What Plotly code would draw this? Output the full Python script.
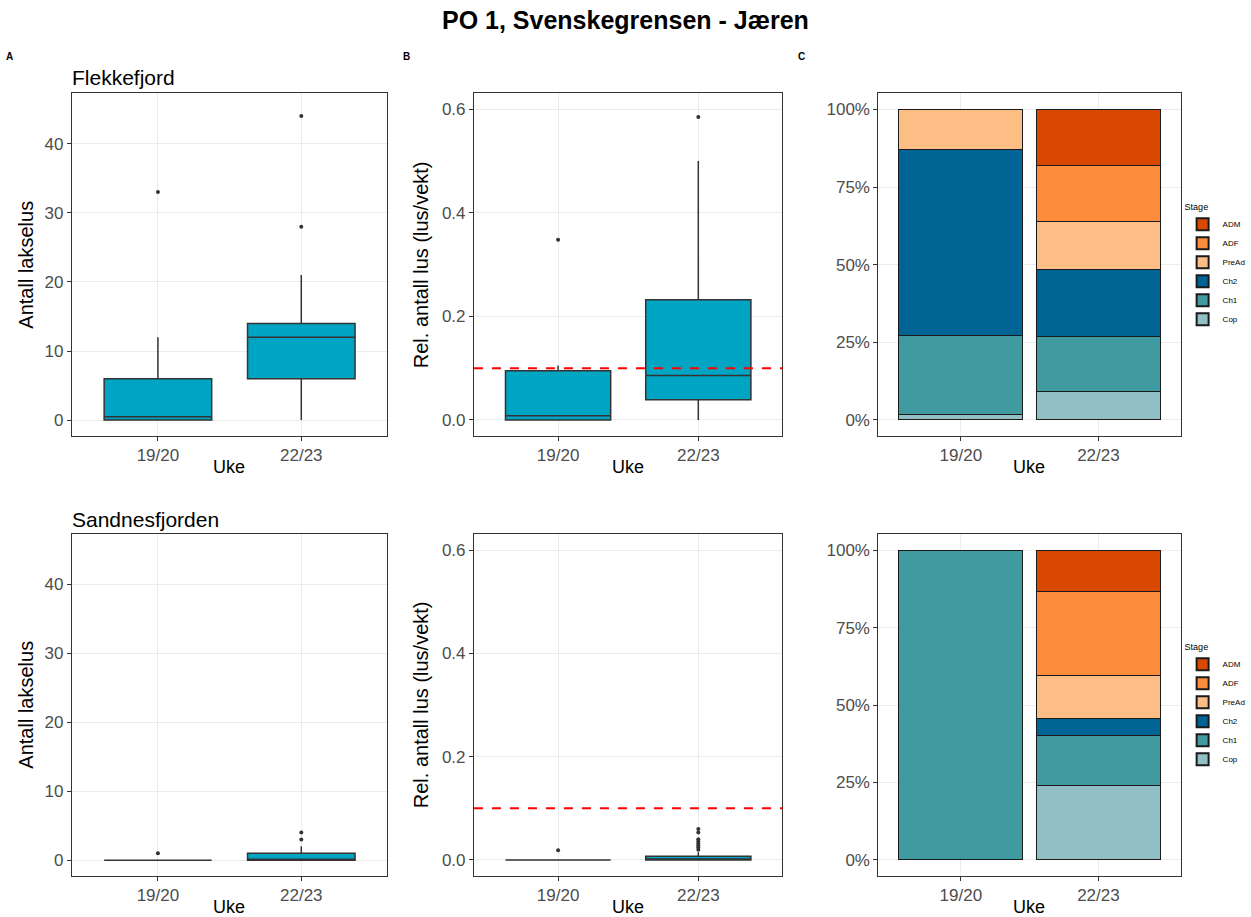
import plotly.graph_objects as go

# ---------------- data ----------------
weeks = ["19/20", "22/23"]

# Panel A (Antall lakselus) – precomputed box statistics
a_top_q1 = [0, 6]
a_top_med = [0.5, 12]
a_top_q3 = [6, 14]
a_top_lo = [0, 0]
a_top_hi = [12, 21]
a_top_out_1920 = [33]
a_top_out_2223 = [28, 44]

a_bot_q1 = [0, 0]
a_bot_med = [0, 0]
a_bot_q3 = [0, 1]
a_bot_lo = [0, 0]
a_bot_hi = [0, 2]
a_bot_out_1920 = [1]
a_bot_out_2223 = [3, 4]

# Panel B (Rel. antall lus)
b_top_q1 = [0, 0.039]
b_top_med = [0.008, 0.086]
b_top_q3 = [0.095, 0.232]
b_top_lo = [0, 0]
b_top_hi = [0.105, 0.5]
b_top_out_1920 = [0.348]
b_top_out_2223 = [0.585]

b_bot_q1 = [0, 0]
b_bot_med = [0, 0.002]
b_bot_q3 = [0, 0.007]
b_bot_lo = [0, 0]
b_bot_hi = [0, 0.015]
b_bot_out_1920 = [0.019]
b_bot_out_2223 = [0.020, 0.024, 0.028, 0.032, 0.036, 0.040, 0.053, 0.060]

threshold = 0.1

# Panel C (stage composition, %)
stages = ["Cop", "Ch1", "Ch2", "PreAd", "ADF", "ADM"]
c_top = {
    "Cop": [1.6, 9.0],
    "Ch1": [25.7, 18.0],
    "Ch2": [59.8, 21.6],
    "PreAd": [12.9, 15.4],
    "ADF": [None, 18.0],
    "ADM": [None, 18.0],
}
c_bot = {
    "Cop": [None, 24.1],
    "Ch1": [100.0, 16.1],
    "Ch2": [None, 5.5],
    "PreAd": [None, 13.8],
    "ADF": [None, 27.0],
    "ADM": [None, 13.5],
}
stage_colors = {
    "ADM": "#D94801",
    "ADF": "#FD8D3C",
    "PreAd": "#FDBE85",
    "Ch2": "#006494",
    "Ch1": "#3F9BA0",
    "Cop": "#92BEC6",
}

# ---------------- figure ----------------
W, H = 1251, 917
FONT = "Liberation Sans, Arial, sans-serif"
BOXFILL = "#00A5C4"
DARK = "#333333"

fig = go.Figure()


def add_box(xa, ya, q1, med, q3, lo, hi, out1, out2):
    fig.add_trace(go.Box(
        x=weeks, q1=q1, median=med, q3=q3, lowerfence=lo, upperfence=hi,
        boxpoints=False, width=0.75, whiskerwidth=0,
        fillcolor=BOXFILL, line=dict(color=DARK, width=1.5),
        xaxis=xa, yaxis=ya, showlegend=False, hoverinfo="skip"))
    xs = [weeks[0]] * len(out1) + [weeks[1]] * len(out2)
    ys = list(out1) + list(out2)
    fig.add_trace(go.Scatter(
        x=xs, y=ys, mode="markers",
        marker=dict(color=DARK, size=4),
        xaxis=xa, yaxis=ya, showlegend=False, hoverinfo="skip"))


add_box("x", "y", a_top_q1, a_top_med, a_top_q3, a_top_lo, a_top_hi, a_top_out_1920, a_top_out_2223)
add_box("x2", "y2", b_top_q1, b_top_med, b_top_q3, b_top_lo, b_top_hi, b_top_out_1920, b_top_out_2223)
add_box("x4", "y4", a_bot_q1, a_bot_med, a_bot_q3, a_bot_lo, a_bot_hi, a_bot_out_1920, a_bot_out_2223)
add_box("x5", "y5", b_bot_q1, b_bot_med, b_bot_q3, b_bot_lo, b_bot_hi, b_bot_out_1920, b_bot_out_2223)


def add_bars(data, xa, ya, legend):
    for s in stages:
        fig.add_trace(go.Bar(
            x=weeks, y=data[s], name=s, width=0.9,
            marker=dict(color=stage_colors[s], line=dict(color="#1a1a1a", width=1)),
            xaxis=xa, yaxis=ya, legend=legend, hoverinfo="skip"))


add_bars(c_top, "x3", "y3", "legend")
add_bars(c_bot, "x6", "y6", "legend2")

# panel geometry (paper fractions)
xdom = [[72.7 / W, 391.7 / W], [479.3 / W, 791.3 / W], [888.3 / W, 1194.3 / W]]
ydom = [[1 - 436 / H, 1 - 93.3 / H], [1 - 876 / H, 1 - 534 / H]]

axis_common = dict(
    showline=True, linecolor=DARK, linewidth=1, mirror=True,
    showgrid=True, gridcolor="#EBEBEB", gridwidth=1,
    ticks="outside", ticklen=4, tickcolor=DARK,
    tickfont=dict(family=FONT, size=17, color="#4D4D4D"),
    zeroline=False, fixedrange=True,
)

yr_a = [-2.3, 47.3]
yr_b = [-0.031, 0.631]
yr_c = [-5.2, 105.2]

layout_axes = {}
k = 1
for r in range(2):
    for c in range(3):
        sfx = "" if k == 1 else str(k)
        layout_axes["xaxis" + sfx] = dict(
            axis_common, domain=xdom[c], anchor="y" + sfx,
            type="category", range=[-0.6, 1.6])
        if c == 0:
            ya = dict(axis_common, range=yr_a, tickvals=[0, 10, 20, 30, 40])
        elif c == 1:
            ya = dict(axis_common, range=yr_b, tickvals=[0, 0.2, 0.4, 0.6],
                      ticktext=["0.0", "0.2", "0.4", "0.6"])
        else:
            ya = dict(axis_common, range=yr_c, tickvals=[0, 25, 50, 75, 100],
                      ticktext=["0%", "25%", "50%", "75%", "100%"])
        layout_axes["yaxis" + sfx] = dict(ya, domain=ydom[r], anchor="x" + sfx)
        k += 1

annotations = []


def ann(text, x, y, size, bold=False, angle=0, xanchor="center", color="black"):
    annotations.append(dict(
        text=("<b>%s</b>" % text) if bold else text,
        x=x / W, y=1 - y / H, xref="paper", yref="paper",
        showarrow=False, textangle=angle, xanchor=xanchor, yanchor="middle",
        font=dict(family=FONT, size=size, color=color)))


ann("PO 1, Svenskegrensen - Jæren", 633, 20, 25, bold=True)
ann("A", 10, 57, 10, bold=True)
ann("B", 411, 57, 10, bold=True)
ann("C", 811, 57, 10, bold=True)
ann("Flekkefjord", 71, 77, 21, xanchor="left")
ann("Sandnesfjorden", 71, 519, 21, xanchor="left")
for yrow, ycenter in [(467, 265), (907, 705)]:
    ann("Uke", 232, yrow, 18)
    ann("Uke", 635, yrow, 18)
    ann("Uke", 1041, yrow, 18)
    ann("Antall lakselus", 26, ycenter, 20, angle=-90)
    ann("Rel. antall lus (lus/vekt)", 426, ycenter, 20, angle=-90)

shapes = []
for xa, ya in [("x2", "y2"), ("x5", "y5")]:
    shapes.append(dict(
        type="line", xref=xa + " domain", x0=0, x1=1, yref=ya, y0=threshold, y1=threshold,
        line=dict(color="#FF0000", width=2, dash="dash")))

legend_common = dict(
    xref="paper", yref="paper", xanchor="left", yanchor="top",
    traceorder="reversed", bgcolor="rgba(0,0,0,0)",
    title=dict(text="Stage", font=dict(family=FONT, size=9, color="black")),
    font=dict(family=FONT, size=8, color="black"),
    itemwidth=30, tracegroupgap=0, itemsizing="constant",
)

fig.update_layout(
    width=W, height=H, autosize=False,
    margin=dict(l=0, r=0, t=0, b=0),
    paper_bgcolor="white", plot_bgcolor="white",
    barmode="stack", boxmode="overlay",
    font=dict(family=FONT),
    annotations=annotations, shapes=shapes,
    legend=dict(legend_common, x=1196 / W, y=1 - 198 / H),
    legend2=dict(legend_common, x=1196 / W, y=1 - 638 / H),
    **layout_axes,
)

fig.write_html(
    "out.html",
    config={"responsive": False, "displayModeBar": False},
    post_script="document.body.style.margin='0px';document.body.style.overflow='hidden';",
)
